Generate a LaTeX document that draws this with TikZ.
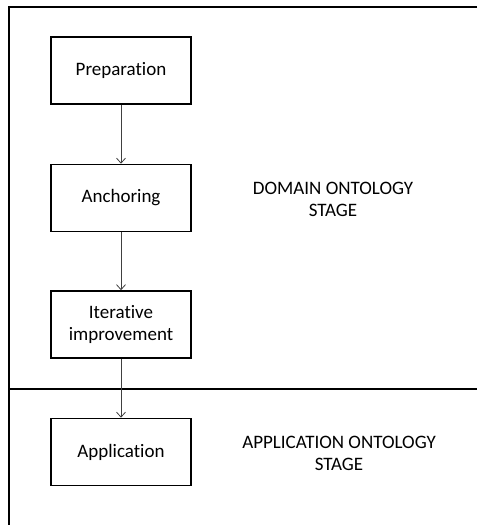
\documentclass[tikz,border=0pt]{standalone}
\usepackage{fontspec}
\setmainfont{Carlito}[Ligatures={NoCommon,NoRare},RawFeature={-liga;-dlig}]
\usetikzlibrary{arrows.meta}
\begin{document}
\begin{tikzpicture}[x=1pt,y=-1pt,
  stepbox/.style={draw,line width=1.6pt,minimum width=140pt,minimum height=67pt,align=center,font=\fontsize{19}{22}\selectfont,inner sep=0pt},
  lbl/.style={align=center,font=\fontsize{19}{22}\selectfont},
  conn/.style={draw=black!75,line width=0.8pt,-{Straight Barb[length=5pt,width=9pt]}}]
\useasboundingbox (0,0) rectangle (477,525);
\coordinate (tl) at (9,7);
\coordinate (tr) at (477,7);
\coordinate (bl) at (9,525);
\coordinate (dl) at (9,389);
\coordinate (dr) at (477,389);
\draw[line width=1.6pt] (tr) -- (tl) -- (bl);
\draw[line width=1.6pt] (dl) -- (dr);
\node[stepbox] (prep) at (121,70.5) {Preparation};
\node[stepbox] (anch) at (121,198) {Anchoring};
\node[stepbox] (iter) at (121,324.5) {Iterative\\improvement};
\node[stepbox] (app) at (121,452) {Application};
\node[lbl] (dom) at (333,199) {DOMAIN ONTOLOGY\\STAGE};
\node[lbl] (appl) at (339,453) {APPLICATION ONTOLOGY\\STAGE};
\draw[conn] (prep) -- (anch);
\draw[conn] (anch) -- (iter);
\draw[conn] (iter) -- (app);
\end{tikzpicture}
\end{document}
